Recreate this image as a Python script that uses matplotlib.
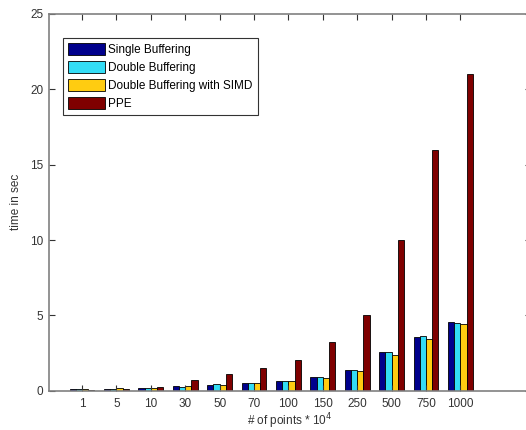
import numpy as np
import matplotlib
matplotlib.use("Agg")
import matplotlib.pyplot as plt

plt.rcParams["font.family"] = ["Liberation Sans", "DejaVu Sans"]

points = ["1", "5", "10", "30", "50", "70", "100", "150", "250", "500", "750", "1000"]
single_buf = [0.12, 0.12, 0.18, 0.31, 0.38, 0.49, 0.62, 0.93, 1.37, 2.54, 3.58, 4.58]
double_buf = [0.12, 0.12, 0.17, 0.22, 0.44, 0.49, 0.62, 0.93, 1.37, 2.54, 3.65, 4.47]
double_simd = [0.13, 0.17, 0.20, 0.30, 0.35, 0.49, 0.62, 0.86, 1.28, 2.35, 3.45, 4.40]
ppe = [0.06, 0.10, 0.22, 0.70, 1.10, 1.48, 2.03, 3.23, 5.04, 10.0, 15.95, 21.05]

series = [single_buf, double_buf, double_simd, ppe]
labels = ["Single Buffering", "Double Buffering", "Double Buffering with SIMD", "PPE"]
colors = ["#00008c", "#33dcf5", "#ffcc11", "#7f0000"]

W, H = 526, 430
fig = plt.figure(figsize=(W / 100, H / 100), dpi=100)
left, right, top, bottom = 49, 531, 14, 390.7
ax = fig.add_axes([left / W, 1 - bottom / H, (right - left) / W, (bottom - top) / H])

x = np.arange(1, len(points) + 1)
bw = 0.18
for i, (vals, lab, col) in enumerate(zip(series, labels, colors)):
    ax.bar(x + (i - 1.5) * bw, vals, bw, color=col, edgecolor="black",
           linewidth=0.6, label=lab)

ax.set_xlim(0.04, 14.05)
ax.set_ylim(0, 25)
ax.set_xticks(x)
ax.set_xticklabels(points)
ax.set_yticks([0, 5, 10, 15, 20, 25])
ax.tick_params(direction="in", length=4, labelsize=8.5, colors="#333333",
               top=True, right=True, width=0.8)
ax.tick_params(axis="x", pad=5)
ax.tick_params(axis="y", pad=4)
for s in ax.spines.values():
    s.set_color("#808080")
    s.set_linewidth(1.2)

ax.set_xlabel("# of points * 10$^4$", fontsize=8.5, color="#333333", labelpad=1)
ax.set_ylabel("time in sec", fontsize=8.5, color="#333333", labelpad=6)

leg = ax.legend(loc="upper left", bbox_to_anchor=(14 / (right - left), 1 - 24 / (bottom - top)),
                fontsize=8.5, frameon=True, fancybox=False, handlelength=3.1,
                handleheight=1.1, labelspacing=0.45, handletextpad=0.25,
                borderpad=0.45, borderaxespad=0)
leg.get_frame().set_edgecolor("black")
leg.get_frame().set_linewidth(0.8)

fig.savefig("out.png", dpi=100)
